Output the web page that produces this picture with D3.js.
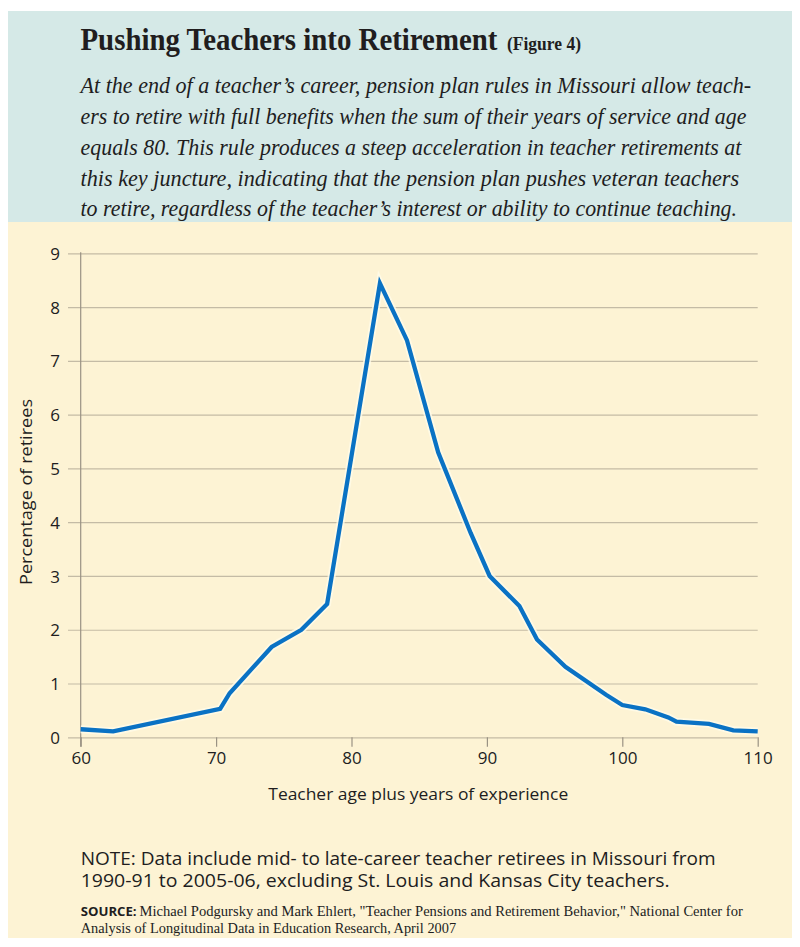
<!DOCTYPE html>
<html>
<head>
<meta charset="utf-8">
<script src="https://cdn.jsdelivr.net/npm/d3@7"></script>
<style>
  html, body { margin: 0; padding: 0; background: #ffffff; }
  svg { display: block; }
</style>
</head>
<body>
<svg id="chart" width="800" height="947"></svg>
<script>
// ---- data ----
const ageExp   = [60, 62.4, 70.3, 71.0, 74.1, 76.3, 78.2, 82.1, 84.1, 86.4, 88.8, 90.2, 92.4, 93.7, 95.8, 98.8, 100.0, 101.7, 103.4, 104.0, 106.4, 108.2, 110];
const retirees = [0.15, 0.11, 0.53, 0.82, 1.68, 2.0, 2.48, 8.44, 7.38, 5.3, 3.8, 3.0, 2.44, 1.82, 1.31, 0.79, 0.6, 0.52, 0.37, 0.29, 0.25, 0.13, 0.11];
const xTicks = [60, 70, 80, 90, 100, 110];
const yTicks = [0, 1, 2, 3, 4, 5, 6, 7, 8, 9];

const titleText = "Pushing Teachers into Retirement";
const figText = "(Figure 4)";
const introLines = [
  "At the end of a teacher\u2019s career, pension plan rules in Missouri allow teach-",
  "ers to retire with full benefits when the sum of their years of service and age",
  "equals 80. This rule produces a steep acceleration in teacher retirements at",
  "this key juncture, indicating that the pension plan pushes veteran teachers",
  "to retire, regardless of the teacher\u2019s interest or ability to continue teaching."
];
const xTitle = "Teacher age plus years of experience";
const yTitle = "Percentage of retirees";
const noteLines = [
  "NOTE: Data include mid- to late-career teacher retirees in Missouri from",
  "1990-91 to 2005-06, excluding St. Louis and Kansas City teachers."
];
const sourceLabel = "SOURCE:";
const sourceLines = [
  "Michael Podgursky and Mark Ehlert, \"Teacher Pensions and Retirement Behavior,\" National Center for",
  "Analysis of Longitudinal Data in Education Research, April 2007"
];

// ---- layout ----
const svg = d3.select("#chart");
const ink = "#211d1e";
const sans = "'Open Sans', 'Noto Sans', sans-serif";
const serif = "'Liberation Serif', 'DejaVu Serif', serif";

// place a text at (x0, y0) and squeeze it horizontally to the given width
function fitText(x0, y0, width, str, attrs) {
  const t = svg.append("text").attr("x", 0).attr("y", 0).attr("fill", ink);
  Object.entries(attrs).forEach(([k, v]) => t.attr(k, v));
  t.text(str);
  const natural = t.node().getComputedTextLength();
  const sx = width / natural;
  t.attr("transform", `translate(${x0},${y0}) scale(${sx},1)`);
  return t;
}

svg.append("rect").attr("x", 8).attr("y", 11).attr("width", 784).attr("height", 211).attr("fill", "#d5e9e7");
svg.append("rect").attr("x", 8).attr("y", 222).attr("width", 784).attr("height", 716).attr("fill", "#fdf3d4");

// title
fitText(80.5, 50, 417, titleText, {"font-family": serif, "font-weight": "bold", "font-size": 31});
fitText(507, 50, 74, figText, {"font-family": serif, "font-weight": "bold", "font-size": 19});

const introEnds = [751.5, 746.5, 741.5, 739.5, 737.5];
const introBase = [92.5, 123.5, 154.5, 185.5, 216];
introLines.forEach((t, i) => {
  fitText(80.5, introBase[i], introEnds[i] - 80.5, t,
    {"font-family": serif, "font-style": "italic", "font-size": 23.5});
});

// ---- chart ----
const x = d3.scaleLinear().domain([60, 110]).range([80.7, 757.7]);
const y = d3.scaleLinear().domain([0, 9]).range([737.3, 253.3]);

const gridColor = "#c4bba5";
const yAxis = svg.append("g").attr("transform", "translate(68,0)")
  .call(d3.axisLeft(y).tickValues(yTicks).tickSizeInner(-(757.7 - 68)).tickSizeOuter(0).tickPadding(8).tickFormat(d3.format("d")));
yAxis.select(".domain").remove();
yAxis.selectAll(".tick line").attr("stroke", gridColor).attr("stroke-width", 1.2);
yAxis.selectAll(".tick text").attr("font-family", sans).attr("font-size", 17).attr("fill", ink).attr("dy", "0.36em");

const xAxis = svg.append("g").attr("transform", "translate(0,737.3)")
  .call(d3.axisBottom(x).tickValues(xTicks).tickSizeInner(9.4).tickSizeOuter(0).tickFormat(d3.format("d")));
xAxis.select(".domain").remove();
xAxis.selectAll(".tick line").attr("stroke", "#9a9283").attr("stroke-width", 1.2);
xAxis.selectAll(".tick text").attr("font-family", sans).attr("font-size", 17).attr("fill", ink)
  .attr("y", 26.5).attr("dy", 0);

// vertical y axis line
svg.append("line").attr("x1", x(60)).attr("x2", x(60)).attr("y1", y(9) - 1).attr("y2", 746.7)
  .attr("stroke", "#9a9283").attr("stroke-width", 1.2);

// line
const line = d3.line().x((d, i) => x(ageExp[i])).y(d => y(d)).curve(d3.curveLinear);
svg.append("path").datum(retirees).attr("d", line)
  .attr("fill", "none").attr("stroke", "#fffbe9").attr("stroke-width", 8).attr("stroke-opacity", 0.8)
  .attr("stroke-linejoin", "miter");
svg.append("path").datum(retirees).attr("d", line)
  .attr("fill", "none").attr("stroke", "#0a72c4").attr("stroke-width", 4.3)
  .attr("stroke-linejoin", "miter");

// axis titles
fitText(268.3, 800, 300, xTitle, {"font-family": sans, "font-size": 16});
svg.append("text").attr("transform", "translate(32,492) rotate(-90)").attr("text-anchor", "middle")
  .attr("font-family", sans).attr("font-size", 16).attr("fill", ink)
  .attr("textLength", 186).attr("lengthAdjust", "spacingAndGlyphs").text(yTitle);

// note
const noteEnds = [716, 670];
const noteBase = [865, 887];
noteLines.forEach((t, i) => {
  fitText(80.7, noteBase[i], noteEnds[i] - 80.7, t, {"font-family": sans, "font-size": 18});
});

// source
fitText(80.7, 916, 56, sourceLabel, {"font-family": sans, "font-weight": "bold", "font-size": 12.5});
fitText(139.5, 916, 743.3 - 139.5, sourceLines[0], {"font-family": serif, "font-size": 14});
fitText(80.7, 933, 456.7 - 80.7, sourceLines[1], {"font-family": serif, "font-size": 14});
</script>
</body>
</html>
